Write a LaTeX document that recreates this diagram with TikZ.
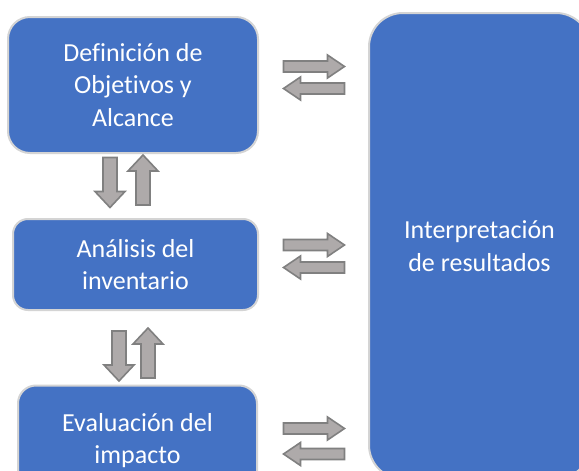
\documentclass[tikz,border=0pt]{standalone}
\usepackage{fontspec}
\setmainfont{Carlito}[Ligatures={NoCommon}]
\definecolor{boxblue}{HTML}{4472C4}
\definecolor{boxedge}{HTML}{D4D4D4}
\definecolor{arrowfill}{HTML}{AEAAAA}
\definecolor{arrowline}{HTML}{808080}
\tikzset{
  stagebox/.style={rectangle, fill=boxblue, draw=boxedge, line width=2pt,
    text=white, align=center, inner sep=0pt,
    font=\fontsize{26}{32.5}\selectfont},
  blockarrow/.style={fill=arrowfill, draw=arrowline, line width=1.6pt, line join=miter},
  pics/rarrow/.style={code={\draw[blockarrow] (-30.5,-5.5) -- (13.5,-5.5) -- (13.5,-11.5) -- (30.5,0) -- (13.5,11.5) -- (13.5,5.5) -- (-30.5,5.5) -- cycle;}},
  pics/larrow/.style={code={\draw[blockarrow] (30.5,-5.5) -- (-13.5,-5.5) -- (-13.5,-11.5) -- (-30.5,0) -- (-13.5,11.5) -- (-13.5,5.5) -- (30.5,5.5) -- cycle;}},
  pics/darrow/.style={code={\draw[blockarrow] (-7,-25) -- (-7,9) -- (-15,9) -- (0,25) -- (15,9) -- (7,9) -- (7,-25) -- cycle;}},
  pics/uarrow/.style={code={\draw[blockarrow] (-7,25) -- (-7,-9) -- (-15,-9) -- (0,-25) -- (15,-9) -- (7,-9) -- (7,25) -- cycle;}},
}
\begin{document}
\begin{tikzpicture}[x=1pt,y=-1pt]
\useasboundingbox (0,0) rectangle (579,471);
\clip (0,0) rectangle (579,471);
\fill[white] (0,0) rectangle (579,471);
% stage boxes
\node[stagebox, rounded corners=22pt, minimum width=250pt, minimum height=136pt] (def) at (133,85) {Definición de\\Objetivos y\\Alcance};
\node[stagebox, rounded corners=15pt, minimum width=245pt, minimum height=91pt] (inv) at (135.5,264.5) {Análisis del\\inventario};
\node[stagebox, rounded corners=18pt, minimum width=239pt, minimum height=110pt] (eva) at (137.5,440.5) {Evaluación del\\impacto};
\node[stagebox, rounded corners=34pt, minimum width=221pt, minimum height=466pt] (int) at (479.5,246) {Interpretación\\de resultados};
% horizontal double arrows
\pic at (314,66.5) {rarrow};
\pic at (314,88.5) {larrow};
\pic at (314,245) {rarrow};
\pic at (314,267.5) {larrow};
\pic at (314,428.5) {rarrow};
\pic at (314,454) {larrow};
% vertical double arrows
\pic at (110,182.5) {darrow};
\pic at (143,180) {uarrow};
\pic at (119,356) {darrow};
\pic at (148,353) {uarrow};
\end{tikzpicture}
\end{document}
